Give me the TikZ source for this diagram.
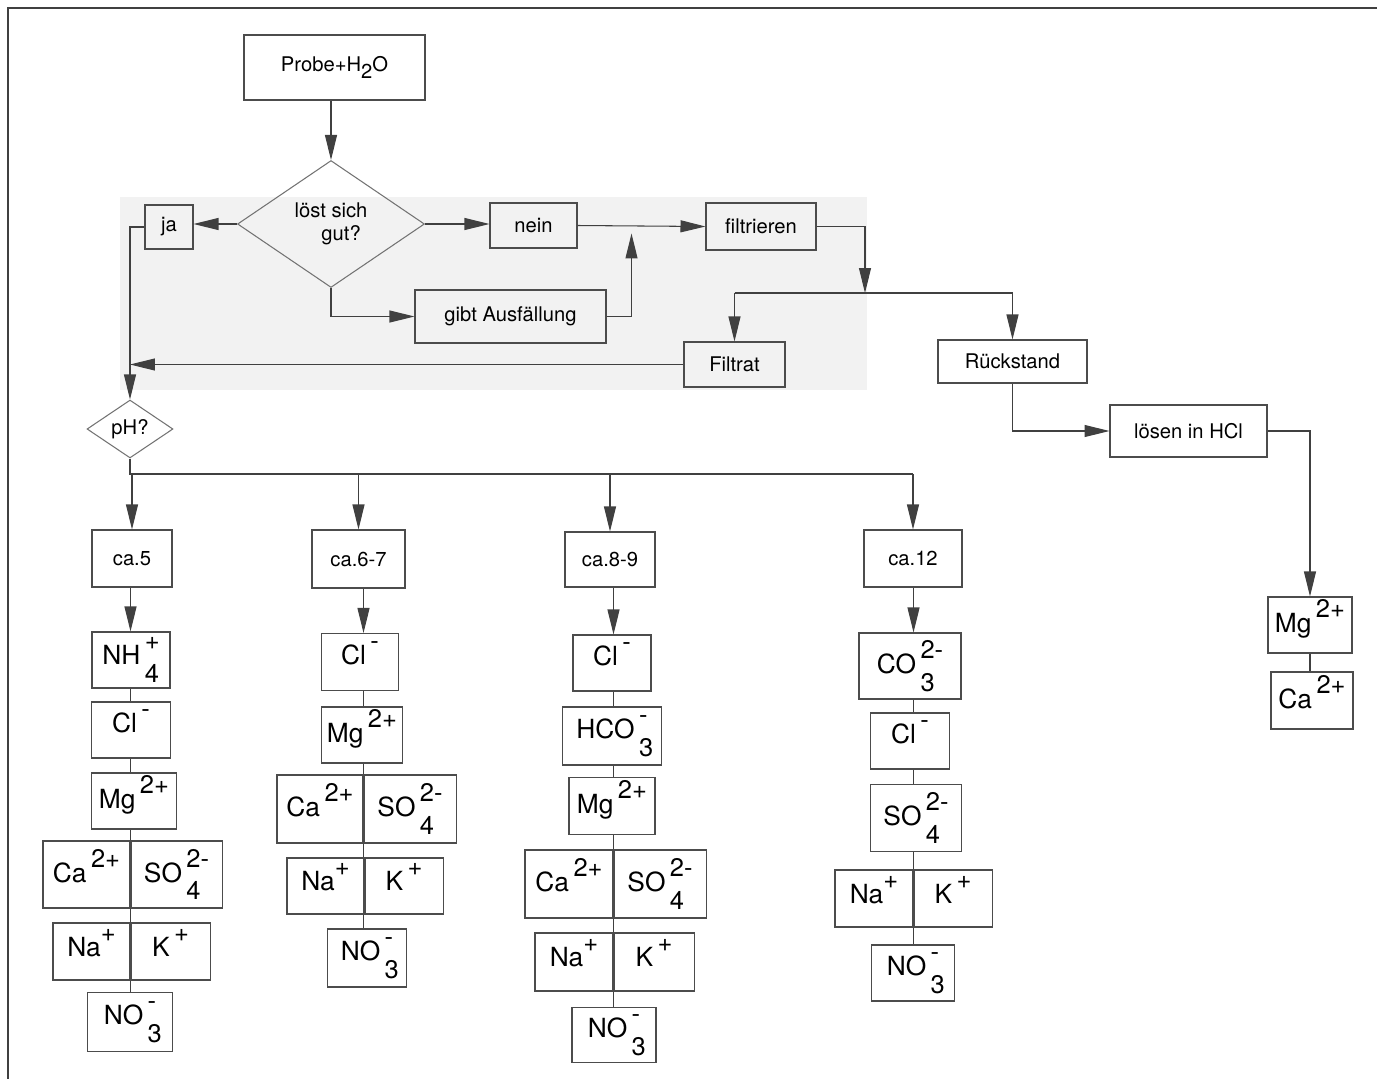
\documentclass[tikz,border=0pt]{standalone}
\usepackage{fontspec}
\setmainfont{TeX Gyre Heros}
\usepackage{tikz}
\usetikzlibrary{arrows.meta,shapes.geometric}

\newcommand{\labelfont}{\fontsize{11.5}{13}\selectfont}
\newcommand{\ionfont}{\fontsize{15}{16}\selectfont}
\newcommand{\ionscriptsize}{\fontsize{14.5}{15}\selectfont}
% stacked sub- and superscript of an ion
\newcommand{\ionx}[2]{\rlap{\raisebox{-10pt}{\ionscriptsize #1}}\raisebox{8.5pt}{\ionscriptsize #2}}
\newcommand{\chemion}[3]{#1\hspace{2.5pt}\ionx{#2}{#3}}

\begin{document}
\begin{tikzpicture}[x=0.02cm, y=-0.02cm, draw=black!80, line width=0.6pt]
        \tikzstyle{stepbox}=[rectangle,draw=black!70,inner sep=2pt,font=\labelfont]
        \tikzstyle{ionbox}=[rectangle,draw=black!70,inner sep=0pt,font=\ionfont,minimum height=1.12cm]
        \tikzstyle{query}=[diamond,draw=black!55,inner sep=0pt,font=\labelfont,align=center]
        \tikzstyle{link}=[draw=black!75]
        \tikzstyle{arr}=[-{Triangle[length=0.5cm,width=0.24cm]}]

        \useasboundingbox (0,0) rectangle (1377,1079);

        % Grey band behind the first steps and the frame
        \fill[black!5] (120,197) rectangle (867,390);
        \draw[line width=1.2pt, black!75] (1377,8) -- (8,8) -- (8,1079);

        % Draw the first steps
        \node[stepbox, minimum width=3.62cm, minimum height=1.30cm] (probe) at (334.5,67.5) {Probe+H\raisebox{-4pt}{2}O};
        \node[query, minimum width=3.74cm, minimum height=2.54cm] (loest) at (331,224) {löst sich\\\hspace{1em}gut?};
        \node[stepbox, minimum width=0.96cm, minimum height=0.88cm] (ja) at (169,227) {ja};
        \node[stepbox, minimum width=1.74cm, minimum height=0.90cm] (nein) at (533.5,225.5) {nein};
        \node[stepbox, minimum width=2.20cm, minimum height=0.94cm] (filt) at (761,226.5) {filtrieren};
        \node[stepbox, minimum width=3.82cm, minimum height=1.06cm] (ausf) at (510.5,316.5) {gibt Ausfällung};
        \node[stepbox, minimum width=2.02cm, minimum height=0.90cm] (filtrat) at (734.5,364.5) {Filtrat};
        \node[stepbox, minimum width=2.98cm, minimum height=0.86cm] (rueck) at (1012.5,361.5) {Rückstand};
        \node[stepbox, minimum width=3.14cm, minimum height=1.04cm] (hcl) at (1188.5,431) {lösen in HCl};
        \node[query, minimum width=1.72cm, minimum height=1.16cm] (ph) at (130,429) {pH?};

        % Draw the pH classes
        \node[stepbox, minimum width=1.60cm, minimum height=1.14cm] (ca5) at (132,558.5) {ca.5};
        \node[stepbox, minimum width=1.86cm, minimum height=1.16cm] (ca67) at (358.5,559) {ca.6-7};
        \node[stepbox, minimum width=1.80cm, minimum height=1.10cm] (ca89) at (610,559.5) {ca.8-9};
        \node[stepbox, minimum width=1.96cm, minimum height=1.14cm] (ca12) at (913,558.5) {ca.12};

        % Ions of the residue
        \node[ionbox, minimum width=1.68cm] (rmg) at (1310,625) {\chemion{Mg}{}{2+}};
        \node[ionbox, minimum width=1.64cm, minimum height=1.14cm] (rca) at (1312,700.5) {\chemion{Ca}{}{2+}};

        % Ions at ca.5
        \node[ionbox, minimum width=1.56cm] (c1nh) at (131,660) {\chemion{NH}{4}{+}};
        \node[ionbox, minimum width=1.58cm] (c1cl) at (131,730) {\chemion{Cl}{}{-}};
        \node[ionbox, minimum width=1.70cm] (c1mg) at (134,801) {\chemion{Mg}{}{2+}};
        \node[ionbox, minimum width=1.74cm, minimum height=1.34cm] (c1ca) at (86.5,874.5) {\chemion{Ca}{}{2+}};
        \node[ionbox, minimum width=1.82cm, minimum height=1.34cm, anchor=west] (c1so) at (c1ca.east) {\chemion{SO}{4}{2-}};
        \node[ionbox, minimum width=1.54cm, minimum height=1.14cm] (c1na) at (91.5,951.5) {Na\ionx{}{+}};
        \node[ionbox, minimum width=1.58cm, minimum height=1.14cm, anchor=west] (c1k) at (c1na.east) {\chemion{K}{}{+}};
        \node[ionbox, minimum width=1.70cm, minimum height=1.18cm] (c1no) at (130,1022) {\chemion{NO}{3}{-}};

        % Ions at ca.6-7
        \node[ionbox, minimum width=1.54cm, minimum height=1.14cm] (c2cl) at (360,662) {\chemion{Cl}{}{-}};
        \node[ionbox, minimum width=1.62cm] (c2mg) at (362,735) {\chemion{Mg}{}{2+}};
        \node[ionbox, minimum width=1.72cm, minimum height=1.36cm] (c2ca) at (320,809) {\chemion{Ca}{}{2+}};
        \node[ionbox, minimum width=1.84cm, minimum height=1.36cm, anchor=west] (c2so) at (c2ca.east) {\chemion{SO}{4}{2-}};
        \node[ionbox, minimum width=1.54cm] (c2na) at (325.5,886) {Na\ionx{}{+}};
        \node[ionbox, minimum width=1.56cm, anchor=west] (c2k) at (c2na.east) {\chemion{K}{}{+}};
        \node[ionbox, minimum width=1.58cm, minimum height=1.16cm] (c2no) at (367,958) {\chemion{NO}{3}{-}};

        % Ions at ca.8-9
        \node[ionbox, minimum width=1.56cm] (c3cl) at (612,663) {\chemion{Cl}{}{-}};
        \node[ionbox, minimum width=1.98cm, minimum height=1.16cm] (c3hc) at (612,736) {\chemion{HCO}{3}{-}};
        \node[ionbox, minimum width=1.72cm, minimum height=1.14cm] (c3mg) at (612,806) {\chemion{Mg}{}{2+}};
        \node[ionbox, minimum width=1.76cm, minimum height=1.36cm] (c3ca) at (569,884) {\chemion{Ca}{}{2+}};
        \node[ionbox, minimum width=1.84cm, minimum height=1.36cm, anchor=west] (c3so) at (c3ca.east) {\chemion{SO}{4}{2-}};
        \node[ionbox, minimum width=1.56cm, minimum height=1.16cm] (c3na) at (574,962) {Na\ionx{}{+}};
        \node[ionbox, minimum width=1.60cm, minimum height=1.16cm, anchor=west] (c3k) at (c3na.east) {\chemion{K}{}{+}};
        \node[ionbox, minimum width=1.68cm, minimum height=1.10cm] (c3no) at (614,1035) {\chemion{NO}{3}{-}};

        % Ions at ca.12
        \node[ionbox, minimum width=2.04cm, minimum height=1.32cm] (c4co) at (910,666) {\chemion{CO}{3}{2-}};
        \node[ionbox, minimum width=1.58cm] (c4cl) at (910,741) {\chemion{Cl}{}{-}};
        \node[ionbox, minimum width=1.82cm, minimum height=1.34cm] (c4so) at (916,818) {\chemion{SO}{4}{2-}};
        \node[ionbox, minimum width=1.56cm, minimum height=1.14cm] (c4na) at (874,898.5) {Na\ionx{}{+}};
        \node[ionbox, minimum width=1.56cm, minimum height=1.14cm, anchor=west] (c4k) at (c4na.east) {\chemion{K}{}{+}};
        \node[ionbox, minimum width=1.66cm] (c4no) at (913,973) {\chemion{NO}{3}{-}};

        % Connect the first steps
        \path (nein.east) ++(54,0) coordinate (jn);
        \coordinate (split) at (865,293);
        \draw[link,arr] (loest.north |- probe.south) -- (loest.north);
        \draw[link,arr] (loest.west) -- (loest.west -| ja.east);
        \draw[link,arr] (loest.east) -- (loest.east -| nein.west);
        \draw[link,arr] (loest.south) |- (ausf.west);
        \draw[link,arr] (nein.east) -- (filt.west);
        \draw[link,arr] (ausf.east) -| ([yshift=-0.16cm]jn);
        \draw[link,arr] (ja.west) -| (ph.north);
        \draw[link,arr] (filtrat.west) -- (filtrat.west -| ph.north);
        \draw[link,arr] (filt.east) -| (split);
        \draw[link] (filtrat.north |- split) -- (rueck.north |- split);
        \draw[link,arr] (filtrat.north |- split) -- (filtrat.north);
        \draw[link,arr] (rueck.north |- split) -- (rueck.north);
        \draw[link,arr] (rueck.south) |- (hcl.west);
        \draw[link,arr] (hcl.east) -| (rmg.north);
        \draw[link] (rmg.south) -- (rmg.south |- rca.north);

        % Branch the pH classes
        \coordinate (bus) at (130,474);
        \draw[link] (ph.south) -- (bus) -- (bus -| ca12.north);
        \foreach \c in {ca5,ca67,ca89,ca12}
            \draw[link,arr] (bus -| \c.north) -- (\c.north);
        \foreach \c/\f/\r in {ca5/c1nh/c1ca, ca67/c2cl/c2ca, ca89/c3cl/c3ca, ca12/c4co/c4na}
            \draw[link,arr] (\c.south -| \r.east) -- (\f.north -| \r.east);

        % Connect the ions of every column
        \foreach \a/\b in {c1nh/c1cl, c1cl/c1mg, c1mg/c1ca, c1ca/c1na, c1na/c1no}
            \draw[link] (\a.south -| c1ca.east) -- (\b.north -| c1ca.east);
        \foreach \a/\b in {c2cl/c2mg, c2mg/c2ca, c2ca/c2na, c2na/c2no}
            \draw[link] (\a.south -| c2ca.east) -- (\b.north -| c2ca.east);
        \foreach \a/\b in {c3cl/c3hc, c3hc/c3mg, c3mg/c3ca, c3ca/c3na, c3na/c3no}
            \draw[link] (\a.south -| c3ca.east) -- (\b.north -| c3ca.east);
        \foreach \a/\b in {c4co/c4cl, c4cl/c4so, c4so/c4na, c4na/c4no}
            \draw[link] (\a.south -| c4na.east) -- (\b.north -| c4na.east);
\end{tikzpicture}
\end{document}
